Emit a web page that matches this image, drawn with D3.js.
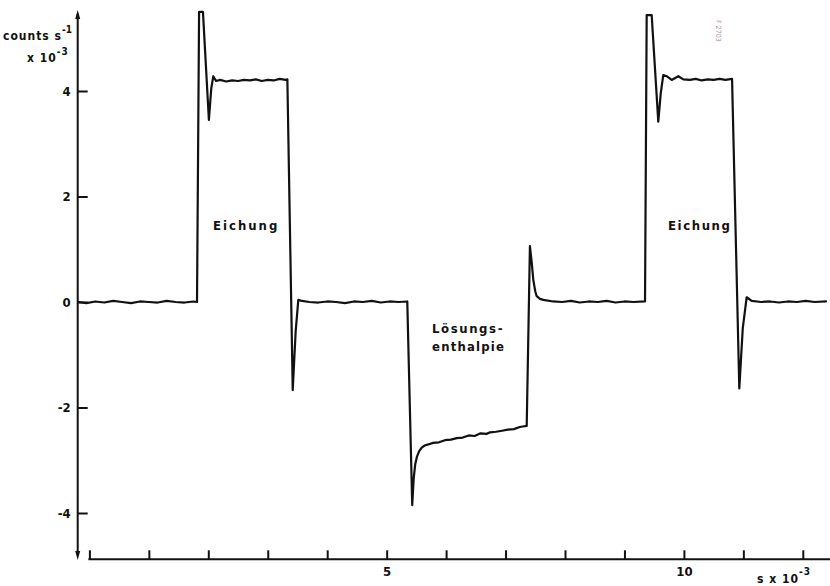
<!DOCTYPE html>
<html>
<head>
<meta charset="utf-8">
<script src="https://cdn.jsdelivr.net/npm/d3@7"></script>
<style>
  html, body { margin: 0; padding: 0; background: #fff; }
  svg { display: block; }
  text { font-family: "DejaVu Sans Condensed", "DejaVu Sans", sans-serif; fill: #111; }
</style>
</head>
<body>
<svg id="chart" width="830" height="586"></svg>
<script>
// time in s x 10^-3
const times = [
  -0.18, -0.05, 0.10, 0.25, 0.40, 0.55, 0.70, 0.85, 1.00, 1.15, 1.30, 1.45, 1.60, 1.75, 1.81,
  1.845, 1.91, 2.01, 2.05, 2.084, 2.13, 2.20, 2.30, 2.40, 2.50, 2.60, 2.70, 2.80, 2.90, 3.00, 3.10, 3.20, 3.30, 3.33,
  3.42, 3.47, 3.514, 3.576, 3.70, 3.85, 4.00, 4.15, 4.30, 4.45, 4.60, 4.75, 4.90, 5.05, 5.20, 5.347,
  5.43, 5.455, 5.48, 5.51, 5.545, 5.59, 5.64, 5.70, 5.78, 5.88, 5.98, 6.08, 6.18, 6.28, 6.38, 6.48, 6.58, 6.68, 6.74, 6.84, 6.94, 7.04, 7.14, 7.24, 7.29, 7.356,
  7.41, 7.44, 7.467, 7.50, 7.524, 7.58, 7.635, 7.80, 7.95, 8.10, 8.25, 8.40, 8.55, 8.70, 8.85, 9.00, 9.15, 9.346,
  9.374, 9.458, 9.569, 9.61, 9.653, 9.71, 9.795, 9.906, 9.99, 10.10, 10.20, 10.30, 10.40, 10.50, 10.60, 10.70, 10.81,
  10.932, 10.99, 11.056, 11.14, 11.30, 11.45, 11.60, 11.75, 11.90, 12.05, 12.20, 12.39
];
// counts s^-1 x 10^-3
const counts = [
  0.00, -0.02, 0.01, -0.01, 0.02, 0.00, -0.02, 0.01, 0.00, -0.01, 0.02, 0.00, -0.01, 0.01, 0.00,
  5.50, 5.50, 3.45, 4.05, 4.28, 4.19, 4.21, 4.18, 4.20, 4.19, 4.21, 4.20, 4.22, 4.19, 4.21, 4.20, 4.23, 4.21, 4.22,
  -1.67, -0.55, 0.04, 0.02, 0.00, -0.01, 0.01, 0.00, -0.02, 0.01, 0.00, 0.02, -0.01, 0.01, 0.00, 0.01,
  -3.85, -3.35, -3.08, -2.93, -2.83, -2.76, -2.72, -2.70, -2.67, -2.66, -2.62, -2.61, -2.58, -2.57, -2.53, -2.54, -2.49, -2.50, -2.47, -2.46, -2.44, -2.42, -2.41, -2.37, -2.36, -2.35,
  1.06, 0.75, 0.42, 0.20, 0.11, 0.06, 0.04, 0.01, 0.00, 0.02, -0.01, 0.01, 0.00, 0.02, -0.01, 0.01, 0.00, 0.01,
  5.44, 5.44, 3.42, 3.95, 4.30, 4.28, 4.21, 4.28, 4.22, 4.21, 4.23, 4.20, 4.22, 4.21, 4.23, 4.21, 4.23,
  -1.64, -0.50, 0.09, 0.02, 0.00, 0.01, -0.01, 0.01, 0.00, 0.02, 0.00, 0.01
];
const yTicks = [-4, -2, 0, 2, 4];
const xTicks = [0, 1, 2, 3, 4, 5, 6, 7, 8, 9, 10, 11, 12];
const xTickLabels = [5, 10];

const svg = d3.select("#chart");
const x = d3.scaleLinear().domain([0, 12]).range([89.4, 802.8]);
const y = d3.scaleLinear().domain([-4, 4]).range([513, 91]);

const ink = "#111";

// Y axis
const yAxisX = 77.7;
const yAxis = svg.append("g").attr("transform", `translate(${yAxisX},0)`)
  .call(d3.axisLeft(y).tickValues(yTicks).tickSizeInner(-10).tickSizeOuter(0).tickPadding(7)
    .tickFormat(d => String(d)));
yAxis.select(".domain").remove();
yAxis.selectAll(".tick line").attr("stroke", ink).attr("stroke-width", 2);
yAxis.selectAll(".tick text").attr("font-size", 13).attr("font-weight", "bold").attr("fill", ink);
svg.append("line").attr("x1", yAxisX).attr("x2", yAxisX).attr("y1", 14).attr("y2", 555)
  .attr("stroke", ink).attr("stroke-width", 2);
svg.append("path").attr("d", `M${yAxisX-2.5},19 L${yAxisX},10 L${yAxisX+2.5},19 Z`).attr("fill", ink);
svg.append("path").attr("d", `M${yAxisX-2.5},551 L${yAxisX},560 L${yAxisX+2.5},551 Z`).attr("fill", ink);

// X axis
const xAxisY = 559.3;
const xAxis = svg.append("g").attr("transform", `translate(0,${xAxisY})`)
  .call(d3.axisBottom(x).tickValues(xTicks).tickSizeInner(-9).tickSizeOuter(0).tickPadding(7)
    .tickFormat(d => xTickLabels.includes(d) ? String(d) : ""));
xAxis.select(".domain").remove();
xAxis.selectAll(".tick line").attr("stroke", ink).attr("stroke-width", 2);
xAxis.selectAll(".tick text").attr("font-size", 13).attr("font-weight", "bold").attr("fill", ink);
svg.append("line").attr("x1", x(0) - 1).attr("x2", 830).attr("y1", xAxisY).attr("y2", xAxisY)
  .attr("stroke", ink).attr("stroke-width", 2);

// Axis titles
const yt = svg.append("text").attr("x", 3).attr("y", 40).attr("font-size", 12).attr("font-weight", "bold")
  .attr("letter-spacing", 1);
yt.append("tspan").text("counts s");
yt.append("tspan").attr("dy", -7).attr("font-size", 10).attr("letter-spacing", 0).text("-1");
const yt2 = svg.append("text").attr("x", 27).attr("y", 62).attr("font-size", 12).attr("font-weight", "bold")
  .attr("letter-spacing", 1);
yt2.append("tspan").text("x 10");
yt2.append("tspan").attr("dy", -7).attr("font-size", 10).text("-3");

const xt = svg.append("text").attr("x", 757).attr("y", 583).attr("font-size", 12).attr("font-weight", "bold")
  .attr("letter-spacing", 1);
xt.append("tspan").text("s x 10");
xt.append("tspan").attr("dy", -8).attr("font-size", 10).text("-3");

// Trace
const pts = times.map((t, i) => [t, counts[i]]);
const line = d3.line().x(d => x(d[0])).y(d => y(d[1]));
svg.append("path").datum(pts).attr("d", line)
  .attr("fill", "none").attr("stroke", ink).attr("stroke-width", 2.2)
  .attr("stroke-linejoin", "round").attr("stroke-linecap", "round");

// Annotations
const ann = svg.append("g").attr("font-size", 13).attr("font-weight", "bold");
ann.append("text").attr("x", 213).attr("y", 230).attr("letter-spacing", 2).text("Eichung");
ann.append("text").attr("x", 668).attr("y", 230).attr("letter-spacing", 1.6).text("Eichung");
ann.append("text").attr("x", 432).attr("y", 333).attr("letter-spacing", 1.6).text("Lösungs-");
ann.append("text").attr("x", 432).attr("y", 351).attr("letter-spacing", 1.2).text("enthalpie");

// figure id, printed vertically
svg.append("text").attr("transform", "translate(716,20) rotate(90)")
  .attr("font-size", 7).style("fill", "#999").text("F 2703");
</script>
</body>
</html>
